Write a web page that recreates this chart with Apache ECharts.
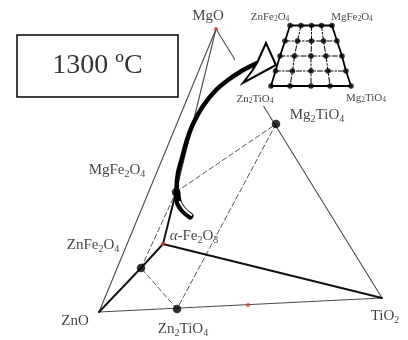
<!DOCTYPE html>
<html><head><meta charset="utf-8">
<script src="https://cdn.jsdelivr.net/npm/echarts@6/dist/echarts.min.js"></script>
<style>html,body{margin:0;padding:0;background:#fff}#c{width:408px;height:340px}</style>
</head><body><div id="c"></div>
<script>
// ---- Diagram data (projected composition-tetrahedron coordinates) ----
const vertexNames = ['MgO', 'ZnO', 'TiO2', 'Fe2O3'];
const vertexX = [216, 99, 382, 163];
const vertexY = [29, 312, 298, 244];

const compoundNames = ['MgFe2O4', 'ZnFe2O4', 'Zn2TiO4', 'Mg2TiO4'];
const compoundX = [176, 141, 177, 276];
const compoundY = [192, 268, 309, 124];

const markerNames = ['MgO', 'Fe2O3', 'ZnTiO3'];
const markerX = [216, 163, 248];
const markerY = [29, 244, 305];

// joins
const thinJoins = [['MgO', 'ZnO'], ['MgO', 'MgFe2O4'], ['MgO', 'TiO2'], ['ZnO', 'TiO2']];
const boldJoins = [['ZnO', 'ZnFe2O4'], ['ZnFe2O4', 'Fe2O3'], ['MgFe2O4', 'Fe2O3'], ['Fe2O3', 'TiO2']];
const dashedJoins = [['MgFe2O4', 'Mg2TiO4'], ['Mg2TiO4', 'Zn2TiO4'], ['Zn2TiO4', 'ZnFe2O4'], ['ZnFe2O4', 'MgFe2O4']];

// inset (spinel solid-solution grid)
const insetRowY = [25.5, 41, 56, 71, 86];
const insetRowX = [
  [290, 301, 311.5, 321.5, 332],
  [285, 297.5, 311.5, 323.5, 337],
  [280, 294.5, 311, 326, 342],
  [275.5, 292.5, 311, 328, 346],
  [271, 290, 311, 330, 351]
];
const insetBoxX = [235, 402];
const insetBoxY = [2, 106];

// curved arrow
const arrowShaftX = [177, 176.5, 178, 182, 187, 193, 203, 216, 228, 240, 251, 257];
const arrowShaftY = [197, 190, 173, 158, 140, 124, 106, 90, 80, 72, 66, 63];
const arrowTailX = [177, 178.5, 183, 190];
const arrowTailY = [193, 203, 210, 216];
const arrowHeadX = [257, 266, 276, 243, 252];
const arrowHeadY = [63, 43, 65, 83, 71];

// labels
const labelText = ['MgO', 'Mg2TiO4', 'MgFe2O4', 'ZnFe2O4', 'ZnO', 'Zn2TiO4', 'TiO2', 'α-Fe2O3'];
const labelX = [208, 317, 117, 93, 75, 183, 385, 194];
const labelY = [16, 115, 170, 245, 321, 329, 316, 236];
const insetLabelText = ['ZnFe2O4', 'MgFe2O4', 'Zn2TiO4', 'Mg2TiO4'];
const insetLabelX = [270, 352, 255, 366];
const insetLabelY = [17, 17, 99, 98];
const titleText = '1300 ºC';
const titleBoxX = [17, 178];
const titleBoxY = [35, 97];

// ---- build ----
const FONT = 'Liberation Serif';
const P = {};
vertexNames.forEach((n, i) => P[n] = [vertexX[i], vertexY[i]]);
compoundNames.forEach((n, i) => P[n] = [compoundX[i], compoundY[i]]);

function lineSeries(data, color, width, type, z, smooth) {
  return { type: 'line', data: data, symbol: 'none', silent: true, z: z, smooth: smooth || false,
    lineStyle: { color: color, width: width, type: type || 'solid', cap: 'round', join: 'round' }, animation: false };
}
function polySeries(xs, ys, style, z) {
  return { type: 'custom', z: z, silent: true, data: [[0, 0]], clip: false, animation: false,
    renderItem: (params, api) => ({ type: 'polygon',
      shape: { points: xs.map((x, i) => api.coord([x, ys[i]])) }, style: style }) };
}
function chem(t, cls, sub) {
  if (t.startsWith('α')) {
    return '{i|α}' + chem(t.slice(1), cls, sub);
  }
  return t.split(/(\d+)/).filter(s => s.length).map(s => /^\d+$/.test(s) ? '{' + sub + '|' + s + '}' : '{' + cls + '|' + s + '}').join('');
}

const series = [];
thinJoins.forEach(j => series.push(lineSeries([P[j[0]], P[j[1]]], '#4a4a4a', 1.1, 'solid', 2)));
boldJoins.forEach(j => series.push(lineSeries([P[j[0]], P[j[1]]], '#111', 1.9, 'solid', 3)));
dashedJoins.forEach(j => series.push(lineSeries([P[j[0]], P[j[1]]], '#555', 1, [5, 3], 2)));

// inset white background
series.push(polySeries([insetBoxX[0], insetBoxX[1], insetBoxX[1], insetBoxX[0]],
  [insetBoxY[0], insetBoxY[0], insetBoxY[1], insetBoxY[1]], { fill: '#fff' }, 4));

// arrow
series.push(lineSeries(arrowShaftX.map((x, i) => [x, arrowShaftY[i]]), '#000', 4.5, 'solid', 6, 0.35));
series.push(lineSeries(arrowTailX.map((x, i) => [x, arrowTailY[i]]), '#000', 7, 'solid', 6, 0.4));
series.push(lineSeries(arrowTailX.map((x, i) => [x + 1.3, arrowTailY[i] - 1]).slice(1), '#fff', 2, 'solid', 7, 0.4));
series.push(polySeries(arrowHeadX, arrowHeadY, { fill: '#fff', stroke: '#000', lineWidth: 2, lineJoin: 'miter' }, 8));

// inset grid
const nR = insetRowY.length, nC = insetRowX[0].length;
for (let r = 0; r < nR; r++) {
  const pts = insetRowX[r].map(x => [x, insetRowY[r]]);
  const edge = (r === 0 || r === nR - 1);
  series.push(lineSeries(pts, '#000', edge ? 1.8 : 1, edge ? 'solid' : [5, 2, 1.5, 2], edge ? 9 : 8));
}
for (let c = 0; c < nC; c++) {
  const pts = insetRowY.map((y, r) => [insetRowX[r][c], y]);
  const edge = (c === 0 || c === nC - 1);
  series.push(lineSeries(pts, '#000', edge ? 1.8 : 1, edge ? 'solid' : [5, 2, 1.5, 2], edge ? 9 : 8));
}
const insetDots = [];
insetRowY.forEach((y, r) => insetRowX[r].forEach(x => insetDots.push([x, y])));
series.push({ type: 'scatter', data: insetDots, symbolSize: 5.5, itemStyle: { color: '#000' }, z: 10, silent: true, animation: false });

// main points
series.push({ type: 'scatter', data: compoundNames.map((n, i) => [compoundX[i], compoundY[i]]), symbolSize: 8.5,
  itemStyle: { color: '#000' }, z: 10, silent: true, animation: false });
series.push({ type: 'scatter', data: markerNames.map((n, i) => [markerX[i], markerY[i]]), symbolSize: 4,
  itemStyle: { color: '#d8392b' }, z: 10, silent: true, animation: false });

// title box
series.push(polySeries([titleBoxX[0], titleBoxX[1], titleBoxX[1], titleBoxX[0]],
  [titleBoxY[0], titleBoxY[0], titleBoxY[1], titleBoxY[1]], { fill: '#fff', stroke: '#000', lineWidth: 1.5 }, 5));

const rich = {
  n: { fontFamily: FONT, fontSize: 15, color: '#111', lineHeight: 18, verticalAlign: 'middle' },
  s: { fontFamily: FONT, fontSize: 10, color: '#111', lineHeight: 10, verticalAlign: 'bottom' },
  i: { fontFamily: FONT, fontSize: 15, fontStyle: 'italic', color: '#111', lineHeight: 18, verticalAlign: 'middle' },
  m: { fontFamily: FONT, fontSize: 11, color: '#111', lineHeight: 13, verticalAlign: 'middle' },
  t: { fontFamily: FONT, fontSize: 7.5, color: '#111', lineHeight: 7, verticalAlign: 'bottom' },
  T: { fontFamily: FONT, fontSize: 28, color: '#000', lineHeight: 30 }
};
const labelData = [];
labelText.forEach((t, i) => labelData.push({ value: [labelX[i], labelY[i]], label: { formatter: chem(t, 'n', 's') } }));
insetLabelText.forEach((t, i) => labelData.push({ value: [insetLabelX[i], insetLabelY[i]], label: { formatter: chem(t, 'm', 't') } }));
labelData.push({ value: [(titleBoxX[0] + titleBoxX[1]) / 2, (titleBoxY[0] + titleBoxY[1]) / 2], label: { formatter: '{T|' + titleText + '}' } });
series.push({ type: 'scatter', data: labelData, symbolSize: 1, itemStyle: { color: 'rgba(0,0,0,0)' }, z: 12, silent: true, animation: false,
  label: { show: true, position: 'inside', align: 'center', verticalAlign: 'middle', rich: rich } });

const chart = echarts.init(document.getElementById('c'), null, { renderer: 'canvas' });
chart.setOption({
  animation: false,
  backgroundColor: '#fff',
  grid: { left: 0, right: 0, top: 0, bottom: 0 },
  xAxis: { type: 'value', min: 0, max: 408, show: false },
  yAxis: { type: 'value', min: 0, max: 340, inverse: true, show: false },
  series: series
});
</script>
</body></html>
